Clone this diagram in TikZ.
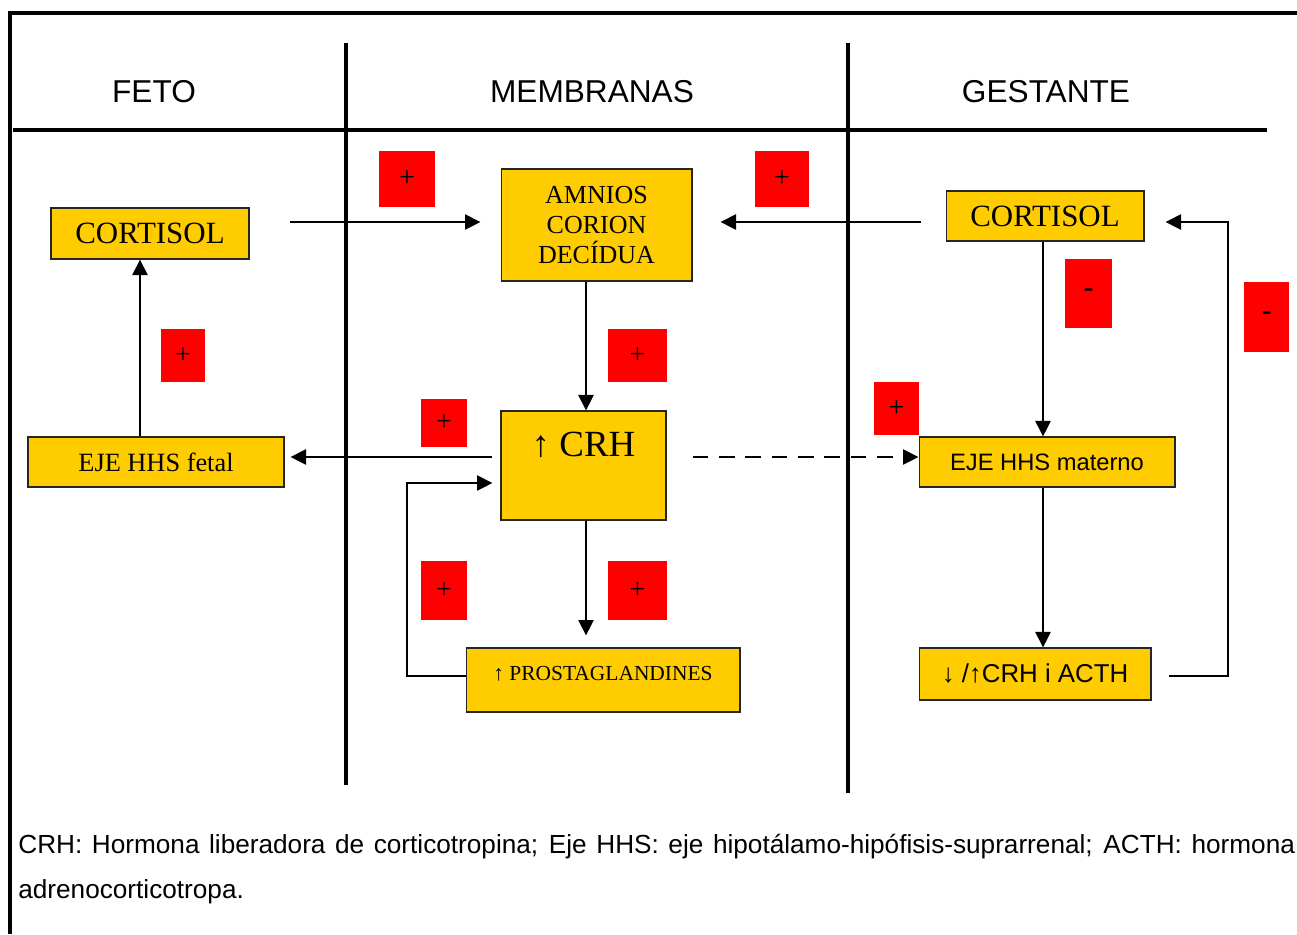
\documentclass[tikz,border=0pt]{standalone}
\usepackage{fontspec}
\setmainfont{Liberation Serif}
\newfontfamily\arial{Liberation Sans}
\usepackage{tikz}
\usetikzlibrary{arrows.meta}
\definecolor{amarillo}{HTML}{FFCC00}
\definecolor{rojo}{HTML}{FF0000}
\tikzset{
	caja/.style={draw=black!85, line width=0.6pt, fill=amarillo, inner sep=0pt, align=center},
	signo/.style={fill=rojo, inner sep=0pt, font=\fontsize{16}{18}\selectfont},
	menos/.style={signo, font=\arial\fontsize{18}{20}\selectfont},
	flecha/.style={line width=1.3pt, -{Triangle[length=0.31cm,width=0.3cm]}},
	columna/.style={line width=2.8pt},
	encabezado/.style={font=\arial\fontsize{18}{20}\selectfont}
}

\begin{document}
\begin{tikzpicture}[x=0.02cm,y=-0.02cm]

	\clip (0,0) rectangle (1297,934);

	% marco y columnas
	\draw[line width=2.2pt] (10,934) -- (10,13) -- (1310,13);
	\draw[columna] (13,130) -- (1267,130);
	\draw[columna] (346,43) -- (346,785);
	\draw[columna] (848,43) -- (848,793);

	\node[encabezado] (feto) at (154,92) {FETO};
	\node[encabezado] (membranas) at (592,92) {MEMBRANAS};
	\node[encabezado] (gestante) at (1046,92) {GESTANTE};

	% cajas
	\node[caja, minimum width=3.96cm, minimum height=1.02cm, font=\fontsize{17.6}{20}\selectfont] (cortF) at (150,233.5) {CORTISOL};
	\node[caja, minimum width=3.82cm, minimum height=2.24cm, font=\fontsize{14.8}{17}\selectfont] (membr) at (596.5,225) {AMNIOS\\CORION\\DECÍDUA};
	\node[caja, minimum width=3.30cm, minimum height=2.18cm, text height=0.5cm, text depth=0.88cm, font=\fontsize{21}{24}\selectfont] (crh) at (583.5,465.5) {↑ CRH};
	\node[caja, minimum width=5.12cm, minimum height=1.0cm, font=\fontsize{15}{17}\selectfont] (ejeF) at (156,462) {EJE HHS fetal};
	\node[caja, minimum width=5.12cm, minimum height=1.0cm, font=\arial\fontsize{13.5}{16}\selectfont] (ejeM) at (1047,462) {EJE HHS materno};
	\node[caja, minimum width=5.48cm, minimum height=1.28cm, text height=0.4cm, text depth=0.4cm, font=\fontsize{12.2}{14}\selectfont] (prost) at (603,680) {↑ PROSTAGLANDINES};
	\node[caja, minimum width=3.96cm, minimum height=1.0cm, font=\fontsize{17.6}{20}\selectfont] (cortM) at (1045,216) {CORTISOL};
	\node[caja, minimum width=4.64cm, minimum height=1.04cm, font=\arial\fontsize{14.7}{17}\selectfont] (acth) at (1035,674) {↓ /↑CRH i ACTH};

	% signos
	\node[signo, minimum width=1.12cm, minimum height=1.12cm] (s1) at (407,179) {+};
	\node[signo, minimum width=1.08cm, minimum height=1.12cm] (s2) at (782,179) {+};
	\node[signo, minimum width=0.88cm, minimum height=1.06cm] (s3) at (183,355.5) {+};
	\node[signo, minimum width=1.18cm, minimum height=1.06cm] (s4) at (637.5,355.5) {+};
	\node[signo, minimum width=0.92cm, minimum height=0.96cm] (s5) at (444,423) {+};
	\node[signo, minimum width=0.90cm, minimum height=1.06cm] (s6) at (896.5,408.5) {+};
	\node[menos, minimum width=0.94cm, minimum height=1.38cm] (s7) at (1088.5,293.5) {-};
	\node[menos, minimum width=0.90cm, minimum height=1.40cm] (s8) at (1266.5,317) {-};
	\node[signo, minimum width=0.92cm, minimum height=1.18cm] (s9) at (444,590.5) {+};
	\node[signo, minimum width=1.18cm, minimum height=1.18cm] (s10) at (637.5,590.5) {+};

	\coordinate (iniF) at (290,222);
	\coordinate (iniM) at (921,222);
	\coordinate (retro) at (407,483);
	\coordinate (lazo) at (1228,222);

	% conexiones
	\draw[flecha, shorten >=0.4cm] (iniF) -- (iniF -| membr.west);
	\draw[flecha, shorten >=0.56cm] (iniM) -- (iniM -| membr.east);
	\draw[flecha] (membr.south -| 586,0) -- (crh.north -| 586,0);
	\draw[flecha, shorten <=0.16cm, shorten >=0.12cm] (crh.west |- 0,457) -- (ejeF.east |- 0,457);
	\draw[flecha] ([xshift=-0.2cm]cortF.south |- ejeF.north) -- ([xshift=-0.2cm]cortF.south);
	\draw[flecha, dashed, dash pattern=on 9pt off 6pt, shorten <=0.52cm] (crh.east |- 0,457) -- (ejeM.west |- 0,457);
	\draw[flecha, shorten >=0.24cm] (crh.south -| 586,0) -- (prost.north -| 586,0);
	\draw[flecha, shorten >=0.16cm] (prost.west |- 0,676) -| (retro) -- (retro -| crh.west);
	\draw[flecha] (cortM.south -| 1043,0) -- (ejeM.north -| 1043,0);
	\draw[flecha] (ejeM.south -| 1043,0) -- (acth.north -| 1043,0);
	\draw[flecha, shorten <=0.34cm, shorten >=0.42cm] (acth.east |- 0,676) -| (lazo) -- (lazo -| cortM.east);

	% nota
	\node[anchor=base west, font=\arial\fontsize{14.9}{17}\selectfont, inner sep=0pt] (nota1) at (18,853) {\makebox[25.54cm][s]{CRH: Hormona liberadora de corticotropina; Eje HHS: eje hipotálamo-hipófisis-suprarrenal; ACTH: hormona}};
	\node[anchor=base west, font=\arial\fontsize{14.9}{17}\selectfont, inner sep=0pt] (nota2) at (18,898) {adrenocorticotropa.};

\end{tikzpicture}
\end{document}
